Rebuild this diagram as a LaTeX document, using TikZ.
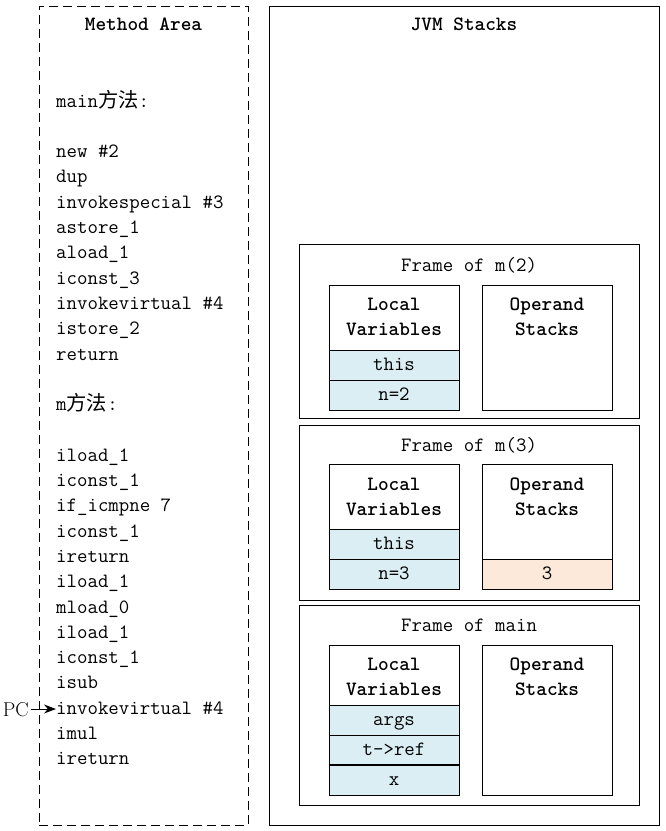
\documentclass[tikz,border=0pt]{standalone}
\usepackage{fontspec}
\newfontfamily\cjk{Noto Sans CJK SC}
\usetikzlibrary{arrows.meta}
\definecolor{lvblue}{HTML}{DAEEF3}
\definecolor{peach}{HTML}{FDE9D9}
\begin{document}
\begin{tikzpicture}[x=1pt,y=-1pt,
  every node/.style={font=\ttfamily\fontsize{20.3}{25}\selectfont, inner sep=0pt},
  box/.style={draw=black, line width=0.9pt, fill=white},
  cellbox/.style={draw=black, line width=0.9pt, minimum width=130pt, minimum height=30pt, text height=12pt, text depth=1pt},
  lv/.style={cellbox, fill=lvblue},
  os/.style={cellbox, fill=peach},
  code/.style={anchor=base west},
  txt/.style={anchor=base},
  ttl/.style={anchor=base, font=\ttfamily\bfseries\fontsize{20.3}{25}\selectfont}
]
\fill[white] (0,0) rectangle (666,831);
\useasboundingbox (0,0) rectangle (666,831);

% Method area
\node[draw=black, line width=0.9pt, dash pattern=on 9pt off 5pt, minimum width=209pt, minimum height=819pt] (method) at (143.5,415.5) {};
\node[ttl] (mtitle) at (143.5,30) {Method Area};

\node[code] (c0) at (56,107) {main{\cjk 方法}:};
\node[code] (c2) at (56,157.6) {new \#2};
\node[code] (c3) at (56,182.9) {dup};
\node[code] (c4) at (56,208.2) {invokespecial \#3};
\node[code] (c5) at (56,233.5) {astore\_1};
\node[code] (c6) at (56,258.8) {aload\_1};
\node[code] (c7) at (56,284.1) {iconst\_3};
\node[code] (c8) at (56,309.4) {invokevirtual \#4};
\node[code] (c9) at (56,334.7) {istore\_2};
\node[code] (c10) at (56,360) {return};
\node[code] (c12) at (56,410.6) {m{\cjk 方法}:};
\node[code] (c14) at (56,461.2) {iload\_1};
\node[code] (c15) at (56,486.5) {iconst\_1};
\node[code] (c16) at (56,511.8) {if\_icmpne 7};
\node[code] (c17) at (56,537.1) {iconst\_1};
\node[code] (c18) at (56,562.4) {ireturn};
\node[code] (c19) at (56,587.7) {iload\_1};
\node[code] (c20) at (56,613) {mload\_0};
\node[code] (c21) at (56,638.3) {iload\_1};
\node[code] (c22) at (56,663.6) {iconst\_1};
\node[code] (c23) at (56,688.9) {isub};
\node[code] (c24) at (56,714.2) {invokevirtual \#4};
\node[code] (c25) at (56,739.5) {imul};
\node[code] (c26) at (56,764.8) {ireturn};

% PC pointer
\node[anchor=base east, font=\rmfamily\fontsize{20}{24}\selectfont] (pc) at (29,716) {PC};
\coordinate (pcstart) at (31,709);
\coordinate (pcend) at (56,709);
\draw[line width=1pt, -{Stealth[length=12pt,width=9pt]}] (pcstart) -- (pcend);

% JVM stacks
\node[box, minimum width=390pt, minimum height=819pt] (jvm) at (464,415.5) {};
\node[ttl] (jtitle) at (464,30) {JVM Stacks};

% Frame of m(2)
\node[box, minimum width=340pt, minimum height=174pt] (f2) at (469,331) {};
\node[txt] (f2t) at (469,271) {Frame of m(2)};
\node[box, minimum width=130pt, minimum height=125pt] (lv2) at (394,347.5) {};
\node[ttl] (lv2a) at (394,310) {Local};
\node[ttl] (lv2b) at (394,335) {Variables};
\node[lv] (lv2c1) at (394,365) {this};
\node[lv] (lv2c2) at (394,395) {n=2};
\node[box, minimum width=130pt, minimum height=125pt] (os2) at (547,347.5) {};
\node[ttl] (os2a) at (547,310) {Operand};
\node[ttl] (os2b) at (547,335) {Stacks};

% Frame of m(3)
\node[box, minimum width=340pt, minimum height=175pt] (f3) at (469,512.5) {};
\node[txt] (f3t) at (469,451) {Frame of m(3)};
\node[box, minimum width=130pt, minimum height=125pt] (lv3) at (394,526.5) {};
\node[ttl] (lv3a) at (394,490) {Local};
\node[ttl] (lv3b) at (394,515) {Variables};
\node[lv] (lv3c1) at (394,544) {this};
\node[lv] (lv3c2) at (394,574) {n=3};
\node[box, minimum width=130pt, minimum height=125pt] (os3) at (547,526.5) {};
\node[ttl] (os3a) at (547,490) {Operand};
\node[ttl] (os3b) at (547,515) {Stacks};
\node[os] (os3c1) at (547,574) {3};

% Frame of main
\node[box, minimum width=340pt, minimum height=200pt] (fm) at (469,705) {};
\node[txt] (fmt) at (469,631) {Frame of main};
\node[box, minimum width=130pt, minimum height=150pt] (lvm) at (394,720) {};
\node[ttl] (lvma) at (394,670) {Local};
\node[ttl] (lvmb) at (394,695) {Variables};
\node[lv] (lvmc1) at (394,720) {args};
\node[lv] (lvmc2) at (394,750) {t->ref};
\node[lv] (lvmc3) at (394,780) {x};
\draw[line width=1.6pt] (lvmc3.north west) -- (lvmc3.north east);
\node[box, minimum width=130pt, minimum height=150pt] (osm) at (547,720) {};
\node[ttl] (osma) at (547,670) {Operand};
\node[ttl] (osmb) at (547,695) {Stacks};
\end{tikzpicture}
\end{document}
